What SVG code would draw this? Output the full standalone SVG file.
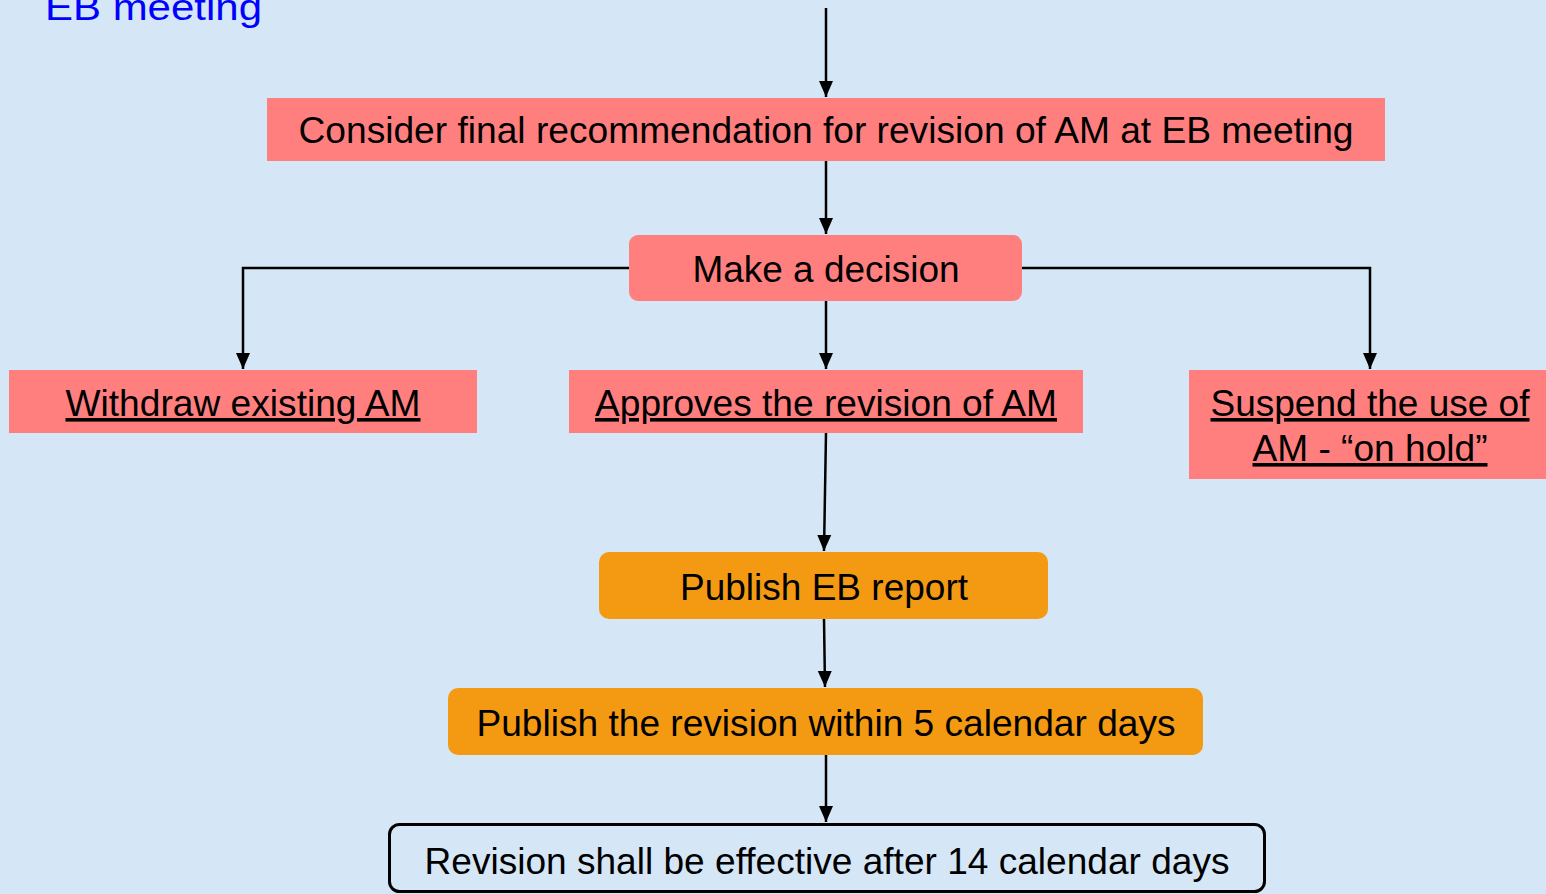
<svg xmlns="http://www.w3.org/2000/svg" width="1546" height="894" viewBox="0 0 1546 894">
<defs>
<marker id="arr" markerUnits="userSpaceOnUse" markerWidth="16" markerHeight="16" viewBox="0 0 16 16" refX="16" refY="8" orient="auto">
<path d="M0,1 L16,8 L0,15 Z" fill="#000"/>
</marker>
<style>
.t{font-family:"Liberation Sans",Arial,sans-serif;font-size:36px;fill:#000;text-anchor:middle}
.u{text-decoration:underline}
.pink{fill:#FF7F7F}
.orange{fill:#F39A12}
.c{fill:none;stroke:#000;stroke-width:2.5}
</style>
</defs>
<rect x="0" y="0" width="1546" height="894" fill="#D5E7F6"/>
<text x="45" y="20" style="font-family:'Liberation Sans',Arial,sans-serif;font-size:36px;fill:#0000FF" textLength="217" lengthAdjust="spacingAndGlyphs">EB meeting</text>
<g id="connectors">
<path class="c" d="M826,8 L826,97" marker-end="url(#arr)"/>
<path class="c" d="M826,161 L826,234" marker-end="url(#arr)"/>
<path class="c" d="M629,268 L243,268 L243,369" marker-end="url(#arr)"/>
<path class="c" d="M1022,268 L1370,268 L1370,369" marker-end="url(#arr)"/>
<path class="c" d="M826,301 L826,369" marker-end="url(#arr)"/>
<path class="c" d="M826,433 L824,551" marker-end="url(#arr)"/>
<path class="c" d="M824,619 L825,687" marker-end="url(#arr)"/>
<path class="c" d="M826,755 L826,822" marker-end="url(#arr)"/>
</g>
<g id="consider">
<rect class="pink" x="267" y="98" width="1118" height="63"/>
<text class="t" x="826" y="143" textLength="1055" lengthAdjust="spacingAndGlyphs">Consider final recommendation for revision of AM at EB meeting</text>
</g>
<g id="decision">
<rect class="pink" x="629" y="235" width="393" height="66" rx="9"/>
<text class="t" x="826" y="282" textLength="267" lengthAdjust="spacingAndGlyphs">Make a decision</text>
</g>
<g id="withdraw">
<rect class="pink" x="9" y="370" width="468" height="63"/>
<text class="t u" x="243" y="416" textLength="355" lengthAdjust="spacingAndGlyphs">Withdraw existing AM</text>
</g>
<g id="approves">
<rect class="pink" x="569" y="370" width="514" height="63"/>
<text class="t u" x="826" y="416" textLength="462" lengthAdjust="spacingAndGlyphs">Approves the revision of AM</text>
</g>
<g id="suspend">
<rect class="pink" x="1189" y="370" width="360" height="109"/>
<text class="t u" x="1370" y="416" textLength="319" lengthAdjust="spacingAndGlyphs">Suspend the use of</text>
<text class="t u" x="1370" y="461" textLength="235" lengthAdjust="spacingAndGlyphs">AM - “on hold”</text>
</g>
<g id="publish-report">
<rect class="orange" x="599" y="552" width="449" height="67" rx="10"/>
<text class="t" x="824" y="600" textLength="288" lengthAdjust="spacingAndGlyphs">Publish EB report</text>
</g>
<g id="publish-revision">
<rect class="orange" x="448" y="688" width="755" height="67" rx="10"/>
<text class="t" x="826" y="736" textLength="699" lengthAdjust="spacingAndGlyphs">Publish the revision within 5 calendar days</text>
</g>
<g id="effective">
<rect x="389.5" y="824.5" width="875" height="67" rx="10" fill="#D5E7F6" stroke="#000" stroke-width="3"/>
<text class="t" x="827" y="874" textLength="805" lengthAdjust="spacingAndGlyphs">Revision shall be effective after 14 calendar days</text>
</g>
</svg>
